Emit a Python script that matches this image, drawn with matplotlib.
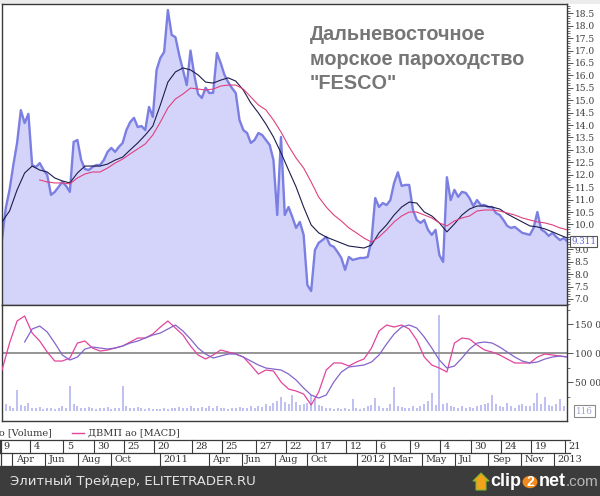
import matplotlib
matplotlib.use('Agg')
import matplotlib.pyplot as plt
from matplotlib.ticker import MultipleLocator, FixedLocator, NullFormatter
from matplotlib.patches import Rectangle, Circle, Polygon
from matplotlib.lines import Line2D
import matplotlib.transforms as mtransforms
import pandas as pd

W, H = 600, 496

# ---------------- data ----------------
title_text = 'Дальневосточное\nморское пароходство\n"FESCO"'
footer_text = 'Элитный Трейдер, ELITETRADER.RU'
legend_volume = 'ДВМП ао [Volume]'
legend_macd = 'ДВМП ао [MACD]'

start_date = '2010-03-13'
end_date = '2013-01-25'

# weekly closing price (RUB)
price = [9.4, 10.66, 11.39, 12.39, 13.28, 14.6, 14.08, 14.45, 12.39, 12.31,
         12.47, 12.2, 11.99, 11.19, 11.31, 11.51, 11.71, 11.55, 11.31, 13.32,
         13.4, 12.59, 12.23, 12.19, 12.31, 12.39, 12.39, 12.59, 12.92, 13.08,
         12.92, 13.12, 13.28, 13.8, 14.12, 14.29, 13.92, 13.96, 13.8, 14.73,
         14.33, 16.22, 16.7, 16.94, 18.63, 17.63, 17.54, 16.82, 16.22, 15.61,
         17.0, 16.02, 15.25, 15.09, 15.5, 15.29, 15.3, 16.9, 16.5, 16.02,
         15.73, 15.49, 15.29, 14.2, 13.8, 13.68, 13.28, 13.4, 13.68, 13.6,
         13.4, 13.2, 12.59, 10.38, 13.52, 10.38, 10.7, 10.3, 9.86, 10.1,
         9.58, 7.56, 7.32, 8.97, 9.26, 9.37, 9.5, 9.17, 9.1, 8.89,
         8.65, 8.17, 8.69, 8.57, 8.61, 8.65, 8.65, 8.69, 9.37, 11.06,
         10.7, 10.86, 10.78, 10.98, 11.67, 12.1, 11.55, 11.59, 11.59, 10.58,
         10.18, 10.06, 10.18, 9.78, 9.58, 9.78, 8.77, 8.49, 11.9, 10.98,
         11.39, 11.11, 11.31, 11.27, 11.06, 10.74, 10.98, 10.78, 10.78, 10.7,
         10.7, 10.46, 10.38, 10.18, 9.94, 9.86, 9.9, 9.78, 9.66, 9.62,
         9.58, 9.86, 10.5, 9.8, 9.7, 9.54, 9.66, 9.5, 9.37, 9.45,
         9.311]

# weekly volume (thousand)
volume = [45, 12, 8, 6, 36, 10, 8, 14, 6, 5, 7, 4, 5, 6, 4, 5, 8, 6, 43, 12,
          8, 6, 5, 7, 5, 4, 6, 5, 7, 4, 5, 6, 43, 8, 6, 5, 7, 6, 4, 5,
          3, 4, 3, 5, 4, 6, 5, 7, 6, 5, 8, 6, 5, 7, 6, 8, 5, 9, 6, 5,
          4, 6, 5, 7, 6, 5, 8, 6, 9, 7, 12, 9, 14, 18, 24, 16, 12, 28, 15, 10,
          12, 14, 28, 20, 10, 8, 6, 5, 4, 5, 4, 6, 4, 21, 5, 4, 6, 8, 10, 22,
          8, 6, 5, 12, 41, 9, 7, 6, 5, 8, 6, 9, 12, 18, 31, 10, 165, 12, 14, 9,
          7, 6, 8, 5, 7, 6, 9, 10, 12, 14, 28, 12, 9, 7, 14, 8, 6, 10, 12, 8,
          9, 14, 31, 12, 24, 10, 8, 12, 21, 9, 10]

# bi-weekly moving averages of price
ma_fast = [10.10, 10.54, 11.39, 12.07, 12.35, 12.19, 12.11, 11.87, 11.75, 11.67,
           12.07, 12.35, 12.35, 12.35, 12.43, 12.59, 12.71, 13.0, 13.28, 13.6,
           13.96, 14.81, 15.73, 16.14, 16.30, 16.22, 16.02, 15.73, 15.69, 15.81,
           15.90, 15.77, 15.41, 14.89, 14.49, 14.04, 13.52, 12.88, 12.19, 11.51,
           10.70, 9.98, 9.66, 9.49, 9.37, 9.25, 9.13, 9.09, 9.05, 9.17,
           9.66, 9.98, 10.38, 10.70, 10.90, 10.86, 10.50, 10.34, 10.06, 9.70,
           10.02, 10.38, 10.62, 10.74, 10.74, 10.70, 10.62, 10.42, 10.26, 10.10,
           9.94, 9.90, 9.82, 9.70, 9.57, 9.45]
ma_slow_offset = 5
ma_slow = [11.79, 11.71, 11.67, 11.67, 11.63, 11.87, 12.03, 12.11, 12.11, 12.27,
           12.47, 12.63, 12.84, 13.04, 13.24, 13.60, 14.12, 14.69, 15.05, 15.25,
           15.49, 15.45, 15.41, 15.45, 15.57, 15.61, 15.61, 15.45, 15.13, 14.81,
           14.61, 14.20, 13.72, 13.16, 12.67, 12.27, 11.71, 11.10, 10.70, 10.38,
           10.14, 9.86, 9.66, 9.45, 9.29, 9.49, 9.78, 10.10, 10.34, 10.50,
           10.50, 10.38, 10.26, 10.06, 9.94, 10.14, 10.26, 10.34, 10.54, 10.58,
           10.58, 10.54, 10.46, 10.38, 10.26, 10.18, 10.10, 10.06, 9.98, 9.86,
           9.78]

# bi-weekly MACD and signal (thousand, chart scale)
macd = [70.7, 117.2, 155.2, 163.8, 134.5, 120.7, 101.7, 86.2, 86.2, 91.4,
        117.2, 120.7, 108.6, 103.4, 105.2, 108.6, 112.1, 119.0, 125.9, 125.9,
        132.8, 144.8, 155.2, 143.1, 131.0, 112.1, 96.6, 89.7, 96.6, 105.2,
        101.7, 98.3, 93.1, 79.3, 63.8, 70.7, 69.0, 50.0, 37.9, 34.5,
        29.3, 10.4, 32.8, 70.7, 82.8, 82.8, 77.6, 84.5, 89.7, 108.6,
        137.9, 148.3, 144.8, 148.3, 141.4, 122.4, 93.1, 79.3, 74.1, 67.2,
        117.2, 125.9, 124.1, 113.8, 105.2, 101.7, 96.6, 89.7, 82.8, 82.8,
        82.8, 93.1, 98.3, 96.6, 94.8, 93.1]
signal_offset = 3
signal = [119.0, 141.4, 146.5, 136.2, 117.2, 96.6, 87.9, 93.1, 106.9, 110.3,
          108.6, 106.9, 108.6, 112.1, 117.2, 120.7, 125.9, 131.0, 134.5, 141.4,
          148.3, 137.9, 124.1, 108.6, 98.3, 91.4, 94.8, 98.3, 98.3, 93.1,
          86.2, 79.3, 74.1, 72.4, 70.7, 63.8, 53.5, 39.7, 27.6, 22.4,
          27.6, 50.0, 67.2, 75.9, 77.6, 79.3, 84.5, 96.6, 115.5, 132.8,
          144.8, 148.3, 143.1, 127.6, 108.6, 87.9, 74.1, 77.6, 91.4, 106.9,
          117.2, 119.0, 117.2, 110.3, 101.7, 93.1, 86.2, 82.8, 84.5, 89.7,
          93.1, 94.8, 93.1]
macd_zero = 100

price_ticks = [7.0 + 0.5 * k for k in range(24)]
hidden_price_label = 9.5   # covered by the last-price box in the reference
osc_ticks = [50, 100, 150]
osc_tick_labels = ['50 000', '100 000', '150 000']
last_volume_label = '116'

row1_dates = ['2010-03-09', '2010-05-04', '2010-07-05', '2010-08-30', '2010-10-25',
              '2010-12-20', '2011-02-28', '2011-04-25', '2011-06-27', '2011-08-22',
              '2011-10-17', '2011-12-12', '2012-02-06', '2012-04-09', '2012-06-04',
              '2012-07-30', '2012-09-24', '2012-11-19', '2013-01-21']
row1_labels = ['9', '4', '5', '30', '25', '20', '28', '25', '27', '22',
               '17', '12', '6', '9', '4', '30', '24', '19', '21']
row2_dates = ['2010-04-01', '2010-06-01', '2010-08-01', '2010-10-01', '2011-01-01',
              '2011-04-01', '2011-06-01', '2011-08-01', '2011-10-01', '2012-01-01',
              '2012-03-01', '2012-05-01', '2012-07-01', '2012-09-01', '2012-11-01',
              '2013-01-01']
row2_labels = ['Apr', 'Jun', 'Aug', 'Oct', '2011', 'Apr', 'Jun', 'Aug', 'Oct', '2012',
               'Mar', 'May', 'Jul', 'Sep', 'Nov', '2013']

weeks = pd.date_range(start_date, periods=len(price), freq='7D')
biweeks = pd.date_range(start_date, periods=len(ma_fast), freq='14D')
xlim = (pd.Timestamp(start_date), pd.Timestamp(end_date))

# ---------------- layout helpers ----------------
def fx(px):
    return px / W

def fy(py):
    return 1 - py / H

SERIF = 'DejaVu Serif'
AX_COL = '#3a3a3a'

fig = plt.figure(figsize=(W / 100, H / 100), dpi=100)
fig.patch.set_facecolor('white')
fig.add_artist(Rectangle((0, fy(4)), 1, 4 / H, transform=fig.transFigure,
                         facecolor='#ececec', edgecolor='none', zorder=0))

# ---------------- price panel ----------------
ax = fig.add_axes([fx(2), fy(305), 565 / W, 301 / H])
ymin, ymax = 6.756, 18.874
ax.fill_between(weeks, price, ymin, color='#d4d4fa', lw=0, zorder=1)
ax.plot(weeks, price, color='#7b7fe2', lw=1.7, zorder=2)
ax.plot(biweeks, ma_fast, color='#1c1c4c', lw=0.8, zorder=3)
ax.plot(biweeks[ma_slow_offset:], ma_slow, color='#e0407e', lw=0.8, zorder=3)
ax.set_xlim(*xlim)
ax.set_ylim(ymin, ymax)
ax.set_xticks([])
ax.yaxis.tick_right()
ax.yaxis.set_major_locator(FixedLocator(price_ticks))
ax.yaxis.set_minor_locator(MultipleLocator(0.1))
ax.set_yticklabels(['' if abs(v - hidden_price_label) < 1e-9 else f'{v:.1f}'
                    for v in price_ticks])
ax.tick_params(axis='y', which='major', direction='out', length=4, width=0.6,
               labelsize=6.5, pad=1.5, colors=AX_COL)
ax.tick_params(axis='y', which='minor', direction='out', length=2, width=0.5,
               colors=AX_COL)
for lab in ax.get_yticklabels():
    lab.set_family(SERIF)
for s in ax.spines.values():
    s.set_color(AX_COL)
    s.set_linewidth(1.0)

ax.text(1.0 + 4 / 565, price[-1], f'{price[-1]:.3f}',
        transform=mtransforms.blended_transform_factory(ax.transAxes, ax.transData),
        ha='left', va='center', fontsize=6.3, family=SERIF, color='#6464d6',
        bbox=dict(boxstyle='square,pad=0.15', facecolor='white', edgecolor='#555555', lw=0.8),
        clip_on=False, zorder=10)

fig.text(fx(310), fy(25), title_text, ha='left', va='top', fontsize=14.3,
         fontweight='bold', color='#767676', family='Liberation Sans', linespacing=1.38)

# ---------------- oscillator / volume panel ----------------
ax2 = fig.add_axes([fx(2), fy(421), 565 / W, 116 / H])
ax2.vlines(weeks, 0, volume, color='#adadf0', lw=1.1, zorder=1)
ax2.axhline(macd_zero, color='#8c8c8c', lw=1.3, zorder=2)
ax2.plot(biweeks, macd, color='#e2449c', lw=0.9, zorder=3)
ax2.plot(biweeks[signal_offset:], signal, color='#8464cc', lw=0.9, zorder=3)
ax2.set_xlim(*xlim)
ax2.set_ylim(-17.2, 182.8)
ax2.set_xticks([])
ax2.yaxis.tick_right()
ax2.yaxis.set_major_locator(FixedLocator(osc_ticks))
ax2.yaxis.set_minor_locator(FixedLocator([25, 75, 125, 175]))
ax2.yaxis.set_minor_formatter(NullFormatter())
ax2.set_yticklabels(osc_tick_labels)
ax2.tick_params(axis='y', which='major', direction='out', length=4, width=0.6,
                labelsize=6.5, pad=1.5, colors=AX_COL)
ax2.tick_params(axis='y', which='minor', direction='out', length=2, width=0.5,
                colors=AX_COL)
for lab in ax2.get_yticklabels():
    lab.set_family(SERIF)
for s in ax2.spines.values():
    s.set_color(AX_COL)
    s.set_linewidth(1.0)
ax2.text(1.0 + 9 / 565, 0, last_volume_label,
         transform=mtransforms.blended_transform_factory(ax2.transAxes, ax2.transData),
         ha='left', va='center', fontsize=6.3, family=SERIF, color='#a0a0d0',
         bbox=dict(boxstyle='square,pad=0.2', facecolor='white', edgecolor='#8a8a8a', lw=0.8),
         clip_on=False, zorder=10)

# ---------------- legend row ----------------
fig.text(fx(52), fy(433), legend_volume, ha='right', va='center', fontsize=7,
         family=SERIF, color='#333333')
fig.add_artist(Line2D([fx(72), fx(84)], [fy(433), fy(433)], color='#e2449c', lw=1.0,
                      transform=fig.transFigure))
fig.text(fx(88), fy(433), legend_macd, ha='left', va='center', fontsize=7,
         family=SERIF, color='#333333')

# ---------------- date rows ----------------
axd = fig.add_axes([fx(2), fy(466), 565 / W, 26 / H])
axd.set_xlim(*xlim)
axd.set_ylim(0, 2)
axd.axis('off')
for d, lab in zip(row1_dates, row1_labels):
    t = pd.Timestamp(d)
    axd.plot([t, t], [1, 2], color=AX_COL, lw=0.8, clip_on=False)
    axd.annotate(lab, xy=(t, 1.5), xytext=(2.5, 0), textcoords='offset points',
                 ha='left', va='center', fontsize=7, family=SERIF, color='#333333',
                 annotation_clip=False)
for d, lab in zip(row2_dates, row2_labels):
    t = pd.Timestamp(d)
    axd.plot([t, t], [0, 1], color=AX_COL, lw=0.8, clip_on=False)
    axd.annotate(lab, xy=(t, 0.5), xytext=(2.5, 0), textcoords='offset points',
                 ha='left', va='center', fontsize=7, family=SERIF, color='#333333',
                 annotation_clip=False)
for yy, x1 in [(440, 570), (453, 570), (466, 600)]:
    fig.add_artist(Line2D([0, fx(x1)], [fy(yy), fy(yy)], color=AX_COL, lw=0.9,
                          transform=fig.transFigure))
fig.add_artist(Line2D([fx(1), fx(1)], [fy(440), fy(466)], color=AX_COL, lw=0.9,
                      transform=fig.transFigure))

# ---------------- footer ----------------
fig.add_artist(Rectangle((0, 0), 1, fy(467), transform=fig.transFigure,
                         facecolor='#3c3c3c', edgecolor='none', zorder=0))
fig.text(fx(10), fy(482), footer_text, ha='left', va='center', fontsize=9.5,
         family='DejaVu Sans', color='#e4e4e4')
fig.add_artist(Polygon([(fx(476), fy(490)), (fx(476), fy(481)), (fx(473), fy(481)),
                        (fx(481), fy(473)), (fx(489), fy(481)), (fx(486), fy(481)),
                        (fx(486), fy(490))], closed=True, transform=fig.transFigure,
                       facecolor='#f3a21c', edgecolor='#7cb82f', lw=0.8))
fig.text(fx(490), fy(482), 'clip', ha='left', va='center', fontsize=13,
         fontweight='bold', family='Liberation Sans', color='white')
fig.add_artist(Circle((fx(530), fy(482)), 7.5 / W, transform=fig.transFigure,
                      facecolor='#f08a1c', edgecolor='none'))
fig.text(fx(530), fy(482), '2', ha='center', va='center', fontsize=10,
         fontweight='bold', family='Liberation Sans', color='white')
fig.text(fx(539), fy(482), 'net', ha='left', va='center', fontsize=13,
         fontweight='bold', family='Liberation Sans', color='white')
fig.text(fx(566), fy(482), '.com', ha='left', va='center', fontsize=11,
         family='Liberation Sans', color='#b8b8b8')

fig.savefig('out.png', dpi=100)
